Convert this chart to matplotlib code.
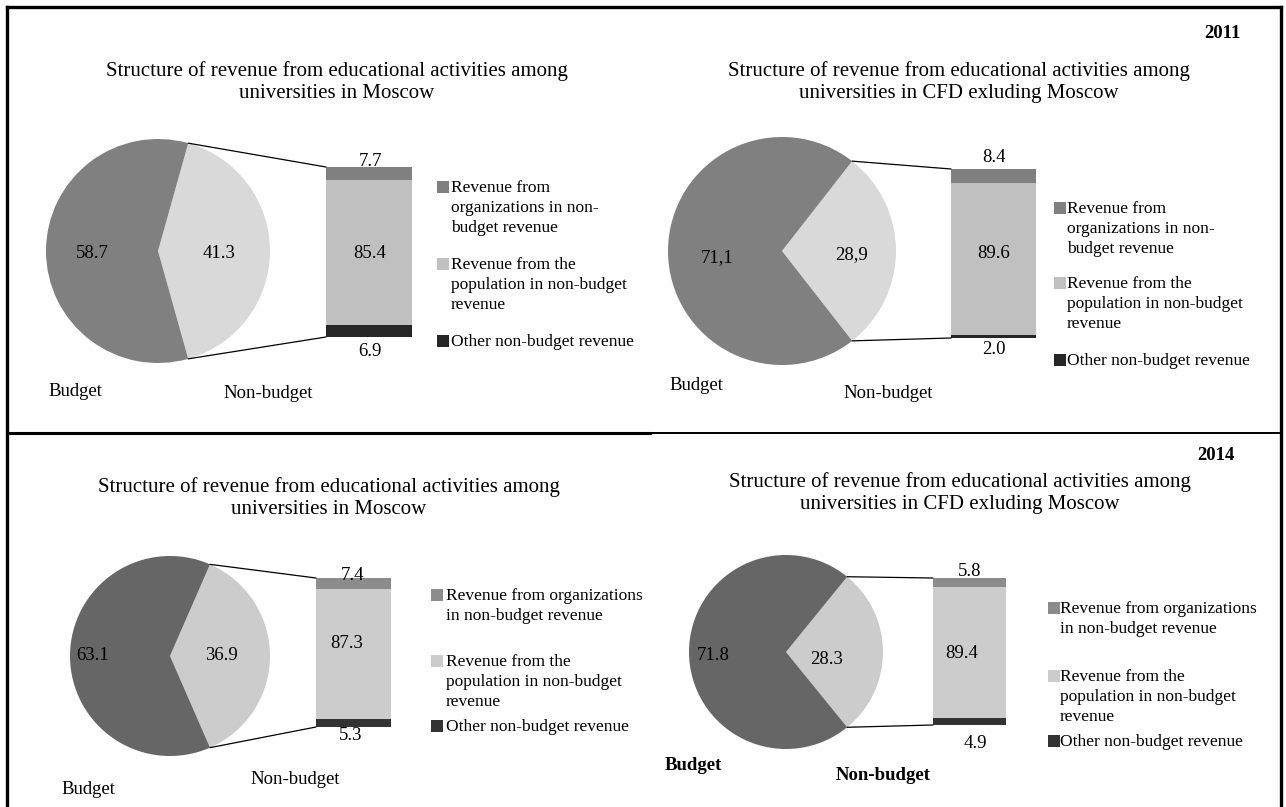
import numpy as np
import matplotlib
matplotlib.use("Agg")
import matplotlib.pyplot as plt
from matplotlib.patches import ConnectionPatch, Rectangle

plt.rcParams['font.family'] = ['Liberation Serif', 'DejaVu Serif']

# data: budget / non-budget split and breakdown of non-budget revenue
titles = [
    "Structure of revenue from educational activities among\nuniversities in Moscow",
    "Structure of revenue from educational activities among\nuniversities in CFD exluding Moscow",
    "Structure of revenue from educational activities among\nuniversities in Moscow",
    "Structure of revenue from educational activities among\nuniversities in CFD exluding Moscow",
]
budget = [58.7, 71.1, 63.1, 71.8]
non_budget = [41.3, 28.9, 36.9, 28.3]
pie_text = [["58.7", "41.3"], ["71,1", "28,9"], ["63.1", "36.9"], ["71.8", "28.3"]]
from_organizations = [7.7, 8.4, 7.4, 5.8]
from_population = [85.4, 89.6, 87.3, 89.4]
other_revenue = [6.9, 2.0, 5.3, 4.9]
legend_2011 = ["Revenue from\norganizations in non-\nbudget revenue",
               "Revenue from the\npopulation in non-budget\nrevenue",
               "Other non-budget revenue"]
legend_2014 = ["Revenue from organizations\nin non-budget revenue",
               "Revenue from the\npopulation in non-budget\nrevenue",
               "Other non-budget revenue"]
legends = [legend_2011, legend_2011, legend_2014, legend_2014]
years = ["2011", "2014"]

# colours per year: pie budget, pie non-budget, bar organizations, population, other
colors_2011 = ["#808080", "#d9d9d9", "#808080", "#c0c0c0", "#262626"]
colors_2014 = ["#666666", "#cccccc", "#8c8c8c", "#cccccc", "#333333"]
palettes = [colors_2011, colors_2011, colors_2014, colors_2014]

# layout in pixels
W, H = 1286, 807
layout = [
    dict(pie=(158, 251, 112), bar=(326, 412, 167, 337), title=(337, 82),
         plab=[(92, 253), (219, 253)], blab=[(370, 162), (370, 253), (370, 351)],
         names=[(75, 391, False), (268, 394, False)],
         leg=(437, 451, [187, 264, 341])),
    dict(pie=(782, 251, 114), bar=(951, 1036, 169, 338), title=(959, 82),
         plab=[(717, 258), (852, 255)], blab=[(994, 157), (994, 253), (994, 350)],
         names=[(696, 385, False), (888, 394, False)],
         leg=(1054, 1067, [208, 283, 360])),
    dict(pie=(170, 656, 100), bar=(316, 391, 578, 727), title=(329, 498),
         plab=[(93, 656), (221, 656)], blab=[(353, 576), (347, 643), (351, 736)],
         names=[(88, 790, False), (295, 780, False)],
         leg=(431, 446, [595, 661, 726])),
    dict(pie=(786, 652, 97), bar=(933, 1006, 578, 725), title=(960, 493),
         plab=[(713, 655), (827, 659)], blab=[(970, 572), (962, 654), (975, 743)],
         names=[(693, 766, True), (883, 776, True)],
         leg=(1048, 1060, [608, 676, 741])),
]


def box(x0, y0, w, h):
    return [x0 / W, 1 - (y0 + h) / H, w / W, h / H]


fig = plt.figure(figsize=(W / 100, H / 100), dpi=100)
over = fig.add_axes([0, 0, 1, 1])
over.set_xlim(0, W)
over.set_ylim(H, 0)
over.axis('off')
over.set_zorder(10)

# outer frame and divider
over.plot([7, 1281], [7, 7], color='black', lw=2.4)
over.plot([7, 7], [7, H], color='black', lw=2.4)
over.plot([1281, 1281], [7, H], color='black', lw=2.4)
over.plot([7, 650], [433, 433], color='black', lw=2.2)
over.plot([650, 1281], [433, 433], color='black', lw=1.4)

over.text(1222, 33, years[0], fontsize=13.5, fontweight='bold', ha='center', va='center')
over.text(1216, 455, years[1], fontsize=13.5, fontweight='bold', ha='center', va='center')

for i, lay in enumerate(layout):
    cols = palettes[i]

    # pie with the non-budget wedge centred on the right
    cx, cy, r = lay['pie']
    ax_pie = fig.add_axes(box(cx - r, cy - r, 2 * r, 2 * r))
    nb_angle = non_budget[i] / (budget[i] + non_budget[i]) * 360
    ax_pie.pie([non_budget[i], budget[i]], colors=[cols[1], cols[0]],
               startangle=-nb_angle / 2, radius=1,
               wedgeprops=dict(linewidth=0))
    ax_pie.set_xlim(-1, 1)
    ax_pie.set_ylim(-1, 1)

    # stacked bar of the non-budget part
    x0, x1, ytop, ybot = lay['bar']
    ax_bar = fig.add_axes(box(x0, ytop, x1 - x0, ybot - ytop))
    parts = [other_revenue[i], from_population[i], from_organizations[i]]
    bottom = 0
    for val, c in zip(parts, [cols[4], cols[3], cols[2]]):
        ax_bar.bar(0, val, width=1, bottom=bottom, color=c, linewidth=0)
        bottom += val
    ax_bar.set_xlim(-0.5, 0.5)
    ax_bar.set_ylim(0, bottom)
    ax_bar.axis('off')

    # connector lines from wedge edges to bar corners
    half = np.deg2rad(nb_angle / 2)
    for sign, ybar in [(1, bottom), (-1, 0)]:
        con = ConnectionPatch(xyA=(-0.5, ybar), coordsA=ax_bar.transData,
                              xyB=(np.cos(half), sign * np.sin(half)),
                              coordsB=ax_pie.transData,
                              color='black', linewidth=0.9)
        fig.add_artist(con)

    # value labels
    for (tx, ty), s in zip(lay['plab'], pie_text[i]):
        over.text(tx, ty, s, fontsize=13.5, ha='center', va='center')
    bar_vals = [from_organizations[i], from_population[i], other_revenue[i]]
    for (tx, ty), v in zip(lay['blab'], bar_vals):
        over.text(tx, ty, f"{v:.1f}", fontsize=13.5, ha='center', va='center')

    # titles and category names
    tx, ty = lay['title']
    over.text(tx, ty, titles[i], fontsize=15, ha='center', va='center',
              linespacing=1.2)
    for (nx, ny, bold), s in zip(lay['names'], ["Budget", "Non-budget"]):
        over.text(nx, ny, s, fontsize=13.5, ha='center', va='center',
                  fontweight='bold' if bold else 'normal')

    # legend
    sx, lx, ys = lay['leg']
    for y1, lab, c in zip(ys, legends[i], [cols[2], cols[3], cols[4]]):
        over.add_patch(Rectangle((sx, y1 - 6), 12, 12, color=c, lw=0))
        over.text(lx, y1 - 7, lab, fontsize=12.5, ha='left', va='top',
                  linespacing=1.33)

fig.savefig("out.png", dpi=100)
